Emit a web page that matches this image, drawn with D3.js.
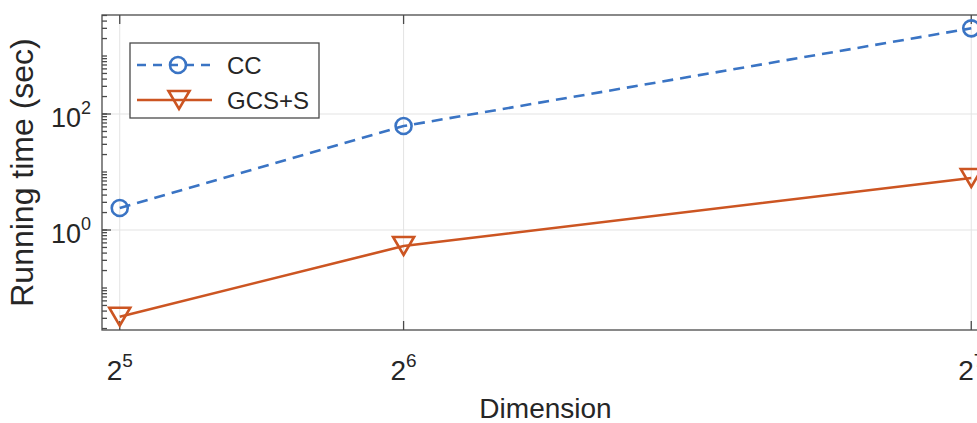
<!DOCTYPE html>
<html>
<head>
<meta charset="utf-8">
<script src="https://cdn.jsdelivr.net/npm/d3@7"></script>
<style>
  body { margin: 0; background: #fff; }
  svg { display: block; }
  text { font-family: "Liberation Sans", Arial, sans-serif; fill: #262626; }
</style>
</head>
<body>
<div id="chart"></div>
<script>
// data
const dims = [32, 64, 128];
const ccTimes = [2.4, 62, 3000];
const gcsTimes = [0.032, 0.53, 7.9];
const seriesNames = ['CC', 'GCS+S'];
const xTickExps = [5, 6, 7];
const yTickExps = [0, 2];

const width = 977;
const height = 423;
const plotLeft = 102, plotRight = 989, plotTop = 15, plotBottom = 330;

const blue = '#3a74c4';
const orange = '#cc5522';
const axisColor = '#4a4a4a';

const svg = d3.select('#chart')
  .append('svg')
  .attr('width', width)
  .attr('height', height);

const x = d3.scaleLinear().domain([30, 130]).range([plotLeft, plotRight]);
const y = d3.scaleLog().domain([Math.pow(10, -1.724), Math.pow(10, 3.707)]).range([plotBottom, plotTop]);

// grid
const grid = svg.append('g').attr('stroke', '#e3e3e3').attr('stroke-width', 1);
grid.selectAll('.gx')
  .data(xTickExps)
  .enter()
  .append('line')
  .attr('x1', d => x(Math.pow(2, d))).attr('x2', d => x(Math.pow(2, d)))
  .attr('y1', plotTop).attr('y2', plotBottom);
grid.selectAll('.gy')
  .data(yTickExps)
  .enter()
  .append('line')
  .attr('x1', plotLeft).attr('x2', plotRight)
  .attr('y1', d => y(Math.pow(10, d))).attr('y2', d => y(Math.pow(10, d)));

// minor ticks on log axis
const minor = [];
for (let e = -2; e <= 3; e++) {
  for (let k = 1; k <= 9; k++) {
    const v = k * Math.pow(10, e);
    if (v >= y.domain()[0] && v <= y.domain()[1]) minor.push(v);
  }
}

const axes = svg.append('g').attr('stroke', axisColor).attr('stroke-width', 1.3);
[plotLeft, plotRight].forEach((ax, i) => {
  const dir = i === 0 ? 1 : -1;
  axes.append('g').selectAll('line')
    .data(minor)
    .enter()
    .append('line')
    .attr('x1', ax).attr('x2', ax + dir * 5)
    .attr('y1', d => y(d)).attr('y2', d => y(d));
  axes.append('g').selectAll('line')
    .data(yTickExps)
    .enter()
    .append('line')
    .attr('x1', ax).attr('x2', ax + dir * 9)
    .attr('y1', d => y(Math.pow(10, d))).attr('y2', d => y(Math.pow(10, d)));
});
[plotBottom, plotTop].forEach((ay, i) => {
  const dir = i === 0 ? -1 : 1;
  axes.append('g').selectAll('line')
    .data(xTickExps)
    .enter()
    .append('line')
    .attr('x1', d => x(Math.pow(2, d))).attr('x2', d => x(Math.pow(2, d)))
    .attr('y1', ay).attr('y2', ay + dir * 9);
});
axes.append('rect')
  .attr('x', plotLeft).attr('y', plotTop)
  .attr('width', plotRight - plotLeft).attr('height', plotBottom - plotTop)
  .attr('fill', 'none');

// tick labels
const xl = svg.selectAll('.xl')
  .data(xTickExps)
  .enter()
  .append('text')
  .attr('x', d => x(Math.pow(2, d)))
  .attr('y', 380)
  .attr('text-anchor', 'middle')
  .style('font-size', '28px');
xl.append('tspan').text('2');
xl.append('tspan').attr('dy', -13).style('font-size', '19px').text(d => d);

const yl = svg.selectAll('.yl')
  .data(yTickExps)
  .enter()
  .append('text')
  .attr('x', 91)
  .attr('y', d => y(Math.pow(10, d)) + 13)
  .attr('text-anchor', 'end')
  .style('font-size', '27px');
yl.append('tspan').text('10');
yl.append('tspan').attr('dy', -13).style('font-size', '18px').text(d => d);

// axis labels
svg.append('text')
  .attr('x', (plotLeft + plotRight) / 2)
  .attr('y', 418)
  .attr('text-anchor', 'middle')
  .style('font-size', '28px')
  .text('Dimension');

svg.append('text')
  .attr('transform', `translate(33, ${(plotTop + plotBottom) / 2}) rotate(-90)`)
  .attr('text-anchor', 'middle')
  .style('font-size', '32px')
  .text('Running time (sec)');

// series
const line = d3.line().x(d => x(d[0])).y(d => y(d[1]));
const ccData = dims.map((d, i) => [d, ccTimes[i]]);
const gcsData = dims.map((d, i) => [d, gcsTimes[i]]);

svg.append('path')
  .datum(ccData)
  .attr('d', line)
  .attr('fill', 'none')
  .attr('stroke', blue)
  .attr('stroke-width', 2.6)
  .attr('stroke-dasharray', '11,7');

svg.append('path')
  .datum(gcsData)
  .attr('d', line)
  .attr('fill', 'none')
  .attr('stroke', orange)
  .attr('stroke-width', 2.6);

const triangle = 'M-10.5,-9L10.5,-9L0,9Z';

svg.selectAll('.cc')
  .data(ccData)
  .enter()
  .append('circle')
  .attr('cx', d => x(d[0]))
  .attr('cy', d => y(d[1]))
  .attr('r', 8)
  .attr('fill', 'none')
  .attr('stroke', blue)
  .attr('stroke-width', 2.6);

svg.selectAll('.gcs')
  .data(gcsData)
  .enter()
  .append('path')
  .attr('transform', d => `translate(${x(d[0])},${y(d[1])})`)
  .attr('d', triangle)
  .attr('fill', 'none')
  .attr('stroke', orange)
  .attr('stroke-width', 2.6)
  .attr('stroke-linejoin', 'miter');

// legend
const legend = svg.append('g');
legend.append('rect')
  .attr('x', 130).attr('y', 43)
  .attr('width', 189).attr('height', 75)
  .attr('fill', '#fff')
  .attr('stroke', axisColor)
  .attr('stroke-width', 1.3);

const items = legend.selectAll('.item')
  .data(seriesNames)
  .enter()
  .append('g')
  .attr('transform', (d, i) => `translate(0, ${65 + i * 35})`);

items.append('line')
  .attr('x1', 137).attr('x2', 212)
  .attr('stroke', (d, i) => i === 0 ? blue : orange)
  .attr('stroke-width', 2.6)
  .attr('stroke-dasharray', (d, i) => i === 0 ? '9,7' : null);

items.filter((d, i) => i === 0)
  .append('circle')
  .attr('cx', 178).attr('r', 8)
  .attr('fill', 'none').attr('stroke', blue).attr('stroke-width', 2.6);

items.filter((d, i) => i === 1)
  .append('path')
  .attr('transform', 'translate(179,0)')
  .attr('d', triangle)
  .attr('fill', 'none').attr('stroke', orange).attr('stroke-width', 2.6);

items.append('text')
  .attr('x', 227)
  .attr('y', 9)
  .style('font-size', '24px')
  .text(d => d);
</script>
</body>
</html>
